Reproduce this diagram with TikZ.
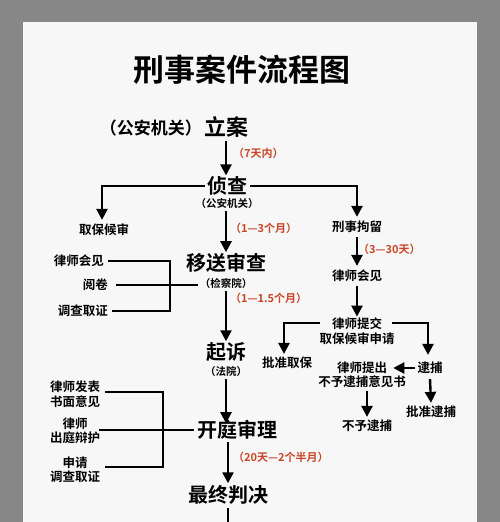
\documentclass[tikz,border=0pt]{standalone}
\usepackage{fontspec}
\usetikzlibrary{arrows.meta,calc}
\newfontfamily\cjkb{Noto Sans CJK SC Bold}
\definecolor{redlab}{RGB}{200,70,40}
\definecolor{bggray}{RGB}{135,135,135}
\definecolor{paper}{RGB}{247,247,247}
\begin{document}
\begin{tikzpicture}[x=1pt,y=-1pt,
  main/.style={font=\cjkb\fontsize{20}{22}\selectfont, inner sep=0pt},
  sub/.style={font=\cjkb\fontsize{10.5}{12}\selectfont, inner sep=0pt},
  side/.style={font=\cjkb\fontsize{12.5}{14.5}\selectfont, inner sep=0pt, align=center},
  redl/.style={font=\cjkb\fontsize{11}{13}\selectfont, text=redlab, inner sep=0pt, anchor=west},
  ln/.style={line width=2.4pt, black},
  arr/.style={ln, -{Triangle[width=11pt,length=11pt]}},
]
\useasboundingbox (0,0) rectangle (500,522);
\fill[bggray] (0,0) rectangle (500,522);
\fill[paper] (23,22) rectangle (477,522);

% title
\node[font=\cjkb\fontsize{31}{34}\selectfont, inner sep=0pt] (title) at (242,70) {刑事案件流程图};

% main column
\coordinate (cx) at (226,0);
\node[font=\cjkb\fontsize{17}{19}\selectfont, inner sep=0pt, anchor=east] (gaj) at (202,128) {（公安机关）};
\node[main, font=\cjkb\fontsize{22}{24}\selectfont] (lian) at (226,127) {立案};
\node[main] (zc) at (227,186) {侦查};
\node[sub] (zcs) at (227,204) {（公安机关）};
\node[main] (ys) at (226,263) {移送审查};
\node[sub] (jcy) at (226,284) {（检察院）};
\node[main] (qs) at (226,352) {起诉};
\node[sub] (fy) at (226,372) {（法院）};
\node[main] (kt) at (237,430) {开庭审理};
\node[main] (zz) at (228,495) {最终判决};
\coordinate (bottom) at (228,522);

% red labels
\node[redl] (l1) at (233,153) {（7天内）};
\node[redl] (l2) at (230,228) {（1—3个月）};
\node[redl] (l3) at (230,298) {（1—1.5个月）};
\node[redl] (l4) at (358,249) {（3—30天）};
\node[redl] (l5) at (233,457) {（20天—2个半月）};

\draw[arr] ($(lian.south -| cx)+(0,3)$) -- ($(zc.north -| cx)+(0,-1)$);
\draw[arr] ($(zcs.south -| cx)+(0,2)$) -- ($(ys.north -| cx)+(0,-1)$);
\draw[arr] ($(jcy.south -| cx)+(0,2)$) -- ($(qs.north -| cx)+(0,-1)$);
\draw[arr] ($(fy.south -| cx)+(0,2)$) -- ($(fy.south -| cx)+(0,46)$);
\draw[arr] ($(kt.south -| zz)+(0,2)$) -- ($(zz.north)+(0,-2)$);
\draw[ln] ($(zz.south)+(0,3)$) -- (bottom);

% left of 侦查
\node[side] (qbhs) at (104,230) {取保候审};
\draw[arr] ($(zc.west)+(-2,0)$) -| ($(qbhs.north)+(-2,-4)$);

% left of 移送审查
\node[side, anchor=east] (hj1) at (104,261) {律师会见};
\node[side, anchor=east] (yj) at (108,285) {阅卷};
\node[side, anchor=east] (dc1) at (108,311) {调查取证};
\coordinate (br1) at (170,0);
\draw[ln] ($(hj1.east)+(4,0)$) -- (hj1.east -| br1) -- (dc1.east -| br1) -- ($(dc1.east)+(4,0)$);
\draw[ln] ($(yj.east)+(8,0)$) -- ($(yj.east -| jcy.west)+(-2,0)$);

% left of 开庭审理
\node[side] (fb) at (75,394) {律师发表\\书面意见};
\node[side] (cd) at (75,431) {律师\\出庭辩护};
\node[side] (sq) at (75,470) {申请\\调查取证};
\coordinate (br2) at (163,0);
\draw[ln] ($(fb.east)+(5,-2)$) -- ($(fb.east -| br2)+(0,-2)$) -- ($(sq.east -| br2)+(0,-3)$) -- ($(sq.east)+(5,-3)$);
\draw[ln] ($(cd.east)+(-1,-1)$) -- ($(cd.east -| kt.west)+(-3,-1)$);

% right branch
\node[side] (xsjl) at (357,227) {刑事拘留};
\draw[arr] ($(zc.east)+(3,0)$) -| ($(xsjl.north)+(0,-4)$);
\node[side] (hj2) at (357,276) {律师会见};
\draw[arr] ($(xsjl.south)+(0,4)$) -- ($(hj2.north)+(0,-4)$);
\node[side] (tj) at (357,331) {律师提交\\取保候审申请};
\draw[arr] ($(hj2.south)+(0,4)$) -- ($(tj.north)+(0,-1)$);
\node[side] (pzqb) at (287,363) {批准取保};
\node[side] (db) at (430,368) {逮捕};
\coordinate (tjl) at (320,323);
\coordinate (tjr) at (392,323);
\draw[arr] (tjl) -| ($(pzqb.north)+(-3,-3)$);
\draw[arr] (tjr) -| ($(db.north)+(-2,-7)$);
\node[side] (tc) at (362,375) {律师提出\\不予逮捕意见书};
\draw[arr] ($(db.west)+(-2,0)$) -- ($(db.west)+(-24,0)$);
\node[side] (bydb) at (367,426) {不予逮捕};
\draw[arr] ($(tc.south -| bydb)+(0,3)$) -- ($(bydb.north)+(0,-3)$);
\node[side] (pzdb) at (431,412) {批准逮捕};
\draw[arr] ($(db.south)+(0,5)$) -- ($(pzdb.north)+(0,-3)$);
\end{tikzpicture}
\end{document}
